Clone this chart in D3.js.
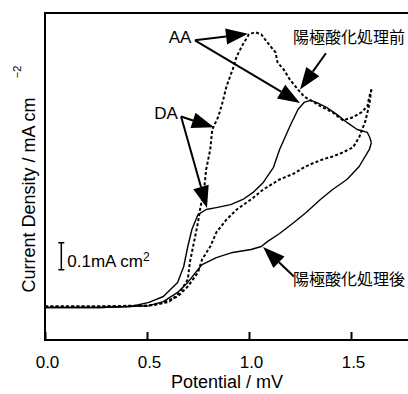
<!DOCTYPE html>
<html>
<head>
<meta charset="utf-8">
<script src="https://cdn.jsdelivr.net/npm/d3@7"></script>
<style>
  html, body { margin: 0; padding: 0; background: #fff; }
  svg { display: block; font-family: "Liberation Sans", Arial, sans-serif; }
</style>
</head>
<body>
<div id="chart"></div>
<script>
// x ticks (V)
const xTicks = [0.0, 0.5, 1.0, 1.5];

// before anodic oxidation (dashed) - forward sweep
const beforeFwdPotential = [0, 0.27, 0.42, 0.49, 0.55, 0.61, 0.66, 0.70, 0.71, 0.73, 0.75, 0.76, 0.78, 0.79, 0.81, 0.82, 0.85, 0.87, 0.89, 0.92, 0.94, 0.97, 1.00, 1.03, 1.06, 1.09, 1.13, 1.14, 1.17, 1.20, 1.24, 1.27, 1.32, 1.36, 1.41, 1.46, 1.51, 1.55, 1.58, 1.59, 1.60];
const beforeFwdCurrent = [0.004, 0.004, 0.007, 0.007, 0.011, 0.022, 0.056, 0.104, 0.167, 0.241, 0.315, 0.363, 0.437, 0.511, 0.585, 0.659, 0.707, 0.759, 0.819, 0.881, 0.930, 0.974, 1.011, 1.019, 1.011, 0.981, 0.944, 0.907, 0.881, 0.844, 0.807, 0.781, 0.759, 0.741, 0.722, 0.693, 0.704, 0.722, 0.744, 0.781, 0.807];
// before - reverse sweep
const beforeRevPotential = [1.60, 1.59, 1.57, 1.54, 1.51, 1.46, 1.41, 1.36, 1.31, 1.27, 1.22, 1.15, 1.07, 1.01, 0.94, 0.89, 0.84, 0.81, 0.77, 0.75, 0.70, 0.65, 0.58, 0.51, 0.27, 0];
const beforeRevCurrent = [0.807, 0.752, 0.689, 0.630, 0.593, 0.574, 0.559, 0.548, 0.533, 0.519, 0.496, 0.474, 0.437, 0.400, 0.363, 0.326, 0.278, 0.226, 0.178, 0.130, 0.078, 0.041, 0.019, 0.007, 0.004, 0.004];

// after anodic oxidation (solid) - forward sweep
const afterFwdPotential = [0, 0.27, 0.42, 0.51, 0.58, 0.65, 0.68, 0.70, 0.72, 0.75, 0.79, 0.84, 0.91, 0.97, 1.02, 1.07, 1.12, 1.15, 1.20, 1.24, 1.27, 1.30, 1.33, 1.38, 1.43, 1.48, 1.53, 1.58, 1.59, 1.60];
const afterFwdCurrent = [0, 0, 0.004, 0.019, 0.041, 0.093, 0.152, 0.226, 0.289, 0.344, 0.363, 0.370, 0.381, 0.400, 0.426, 0.463, 0.519, 0.585, 0.670, 0.733, 0.759, 0.767, 0.759, 0.741, 0.715, 0.685, 0.659, 0.648, 0.633, 0.611];
// after - reverse sweep
const afterRevPotential = [1.60, 1.59, 1.54, 1.48, 1.41, 1.35, 1.28, 1.22, 1.15, 1.09, 1.06, 1.01, 0.92, 0.84, 0.77, 0.75, 0.70, 0.65, 0.58, 0.51, 0.27, 0];
const afterRevCurrent = [0.611, 0.585, 0.522, 0.474, 0.437, 0.400, 0.352, 0.315, 0.274, 0.244, 0.226, 0.215, 0.204, 0.185, 0.159, 0.141, 0.093, 0.056, 0.022, 0.007, 0, 0];

// annotations: label text, its position, and arrows [tailX, tailY, tipX, tipY]
const labels = ["AA", "DA", "陽極酸化処理前", "陽極酸化処理後"];
const labelPos = [[0.662, 1.0], [0.593, 0.722], [1.216, 1.0], [1.216, 0.104]];
const labelArrows = [
  [[0.735, 0.989, 0.995, 1.013], [0.735, 0.989, 1.25, 0.757]],
  [[0.667, 0.707, 0.828, 0.667], [0.667, 0.707, 0.794, 0.368]],
  [[1.377, 0.941, 1.25, 0.807]],
  [[1.22, 0.115, 1.069, 0.224]]
];

// scale bar: 0.1 mA cm-2
const scaleBarX = 0.08;
const scaleBarRange = [0.14, 0.24];

const width = 408, height = 394;
const margin = { top: 13, left: 45, bottom: 54 };

const svg = d3.select("#chart").append("svg")
  .attr("width", width)
  .attr("height", height);

const x = d3.scaleLinear().domain([0, 2.0]).range([margin.left, margin.left + 408]);
const y = d3.scaleLinear().domain([-0.12, 1.09]).range([height - margin.bottom, margin.top]);

const line = d3.line().x(d => x(d[0])).y(d => y(d[1]));
const zip = (a, b) => a.map((v, i) => [v, b[i]]);

// frame (right side runs off the page)
svg.append("path")
  .attr("d", `M${width},${y(1.09)}H${x(0)}V${y(-0.12)}H${width}`)
  .attr("fill", "none")
  .attr("stroke", "#000")
  .attr("stroke-width", 2);

// x axis, ticks inward
const xAxis = svg.append("g")
  .attr("transform", `translate(0,${y(-0.12)})`)
  .call(d3.axisBottom(x).tickValues(xTicks).tickSizeInner(-8).tickSizeOuter(0).tickPadding(16).tickFormat(d3.format(".1f")));
xAxis.select(".domain").remove();
xAxis.selectAll(".tick line").attr("stroke-width", 2);
xAxis.selectAll("text")
  .attr("font-size", 17)
  .attr("font-family", "Liberation Sans, Arial, sans-serif")
  .attr("dx", 2)
  .attr("fill", "#000");

// axis titles
svg.append("text")
  .attr("x", 227).attr("y", 388)
  .attr("text-anchor", "middle")
  .attr("font-size", 18)
  .text("Potential / mV");

svg.append("text")
  .attr("transform", "translate(35,195) rotate(-90)")
  .attr("text-anchor", "middle")
  .attr("font-size", 18)
  .text("Current Density / mA cm");

svg.append("text")
  .attr("transform", "translate(21,72) rotate(-90)")
  .attr("text-anchor", "middle")
  .attr("font-size", 11)
  .text("−2");

// curves
const curves = [
  { d: zip(beforeFwdPotential, beforeFwdCurrent), dash: "3,2.2", w: 2 },
  { d: zip(beforeRevPotential, beforeRevCurrent), dash: "3,2.2", w: 2 },
  { d: zip(afterFwdPotential, afterFwdCurrent), dash: null, w: 1.4 },
  { d: zip(afterRevPotential, afterRevCurrent), dash: null, w: 1.4 }
];
svg.selectAll(".curve")
  .data(curves)
  .enter().append("path")
  .attr("class", "curve")
  .attr("d", c => line(c.d))
  .attr("fill", "none")
  .attr("stroke", "#000")
  .attr("stroke-width", c => c.w)
  .attr("stroke-dasharray", c => c.dash)
  .attr("stroke-linejoin", "round");

// scale bar
const sbx = x(scaleBarX);
svg.append("path")
  .attr("d", `M${sbx - 3},${y(scaleBarRange[1])}H${sbx + 3}M${sbx},${y(scaleBarRange[1])}V${y(scaleBarRange[0])}M${sbx - 3},${y(scaleBarRange[0])}H${sbx + 3}`)
  .attr("stroke", "#000")
  .attr("stroke-width", 1.5)
  .attr("fill", "none");
const sbText = svg.append("text")
  .attr("x", sbx + 6)
  .attr("y", y(scaleBarRange[0]) - 3)
  .attr("font-size", 17);
sbText.append("tspan").text("0.1mA cm");
sbText.append("tspan").attr("dy", -6).attr("font-size", 12).text("2");

// annotation arrows
function arrow(g, x1, y1, x2, y2) {
  const ang = Math.atan2(y2 - y1, x2 - x1);
  const len = 22, hw = 8;
  const bx = x2 - len * Math.cos(ang), by = y2 - len * Math.sin(ang);
  g.append("line")
    .attr("x1", x1).attr("y1", y1).attr("x2", bx).attr("y2", by)
    .attr("stroke", "#000").attr("stroke-width", 2);
  const px = -Math.sin(ang) * hw, py = Math.cos(ang) * hw;
  g.append("path")
    .attr("d", `M${x2},${y2}L${bx + px},${by + py}L${bx - px},${by - py}Z`)
    .attr("fill", "#000");
}

const ann = svg.append("g");
labels.forEach((lab, i) => {
  const cjk = i >= 2;
  ann.append("text")
    .attr("x", x(labelPos[i][0]))
    .attr("y", y(labelPos[i][1]))
    .attr("dy", "0.36em")
    .attr("text-anchor", cjk ? "start" : "middle")
    .attr("font-size", cjk ? 16 : 17)
    .attr("font-family", cjk ? "Noto Sans CJK JP, sans-serif" : null)
    .text(lab);
  labelArrows[i].forEach(a => arrow(ann, x(a[0]), y(a[1]), x(a[2]), y(a[3])));
});
</script>
</body>
</html>
